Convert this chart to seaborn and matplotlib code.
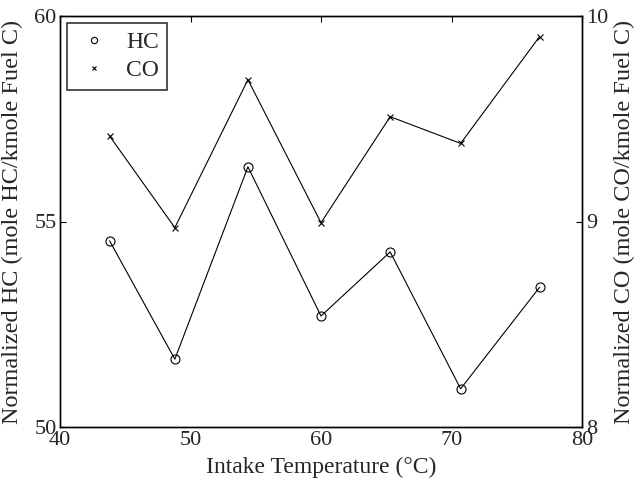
import matplotlib
matplotlib.use("Agg")
import matplotlib.pyplot as plt
import seaborn as sns
import pandas as pd
from matplotlib.lines import Line2D

temps = [43.8, 48.8, 54.4, 60.0, 65.3, 70.7, 76.75]
hc_values = [54.53, 51.65, 56.33, 52.70, 54.26, 50.93, 53.40]
co_values = [9.416, 8.97, 9.69, 8.994, 9.51, 9.38, 9.90]
x_ticks = [40, 50, 60, 70, 80]
hc_ticks = [50, 55, 60]
co_ticks = [8, 9, 10]

sns.set_style("white")
plt.rcParams['font.family'] = ['Liberation Serif', 'DejaVu Serif']
plt.rcParams['mathtext.fontset'] = 'stix'

df = pd.DataFrame({"T": temps, "HC": hc_values, "CO": co_values})

fig = plt.figure(figsize=(6.37, 4.83), dpi=100)
ax = fig.add_axes([60/637, 1-427/483, (582-60)/637, (427-16)/483])
ax2 = ax.twinx()

sns.lineplot(data=df, x="T", y="HC", ax=ax, color="black", linewidth=0.8,
             marker="o", markersize=6.5, markerfacecolor="none",
             markeredgecolor="black", markeredgewidth=0.8)
sns.lineplot(data=df, x="T", y="CO", ax=ax2, color="black", linewidth=0.8,
             marker="x", markersize=4.5, markeredgewidth=0.8,
             markeredgecolor="black")

ax.set_xlim(40, 80)
ax.set_ylim(50, 60)
ax2.set_ylim(8, 10)
ax.set_xticks(x_ticks)
ax.set_yticks(hc_ticks)
ax2.set_yticks(co_ticks)

for a in (ax, ax2):
    for s in a.spines.values():
        s.set_color("black")
        s.set_linewidth(1.0)
ax.tick_params(axis="x", direction="in", length=4, width=0.8, top=True,
               labelsize=16, pad=3, color="black")
ax.tick_params(axis="y", direction="in", length=4, width=0.8, left=True,
               right=False, labelsize=16, pad=2.5, color="black")
ax2.tick_params(axis="y", direction="in", length=4, width=0.8, right=True,
                labelsize=16, pad=3, color="black")

ax.set_xlabel("Intake Temperature (°C)", fontsize=17, labelpad=5)
ax.set_ylabel("Normalized HC (mole HC/kmole Fuel C)", fontsize=17.5)
ax2.set_ylabel("Normalized CO (mole CO/kmole Fuel C)", fontsize=17.5,
               rotation=90)
ax.yaxis.set_label_coords(-0.071, 0.5)
ax2.yaxis.set_label_coords(1.061, 0.5)

handles = [
    Line2D([], [], linestyle="none", marker="o", markersize=4.5,
           markerfacecolor="none", markeredgecolor="black", markeredgewidth=0.8),
    Line2D([], [], linestyle="none", marker="x", markersize=3.5,
           markeredgecolor="black", markeredgewidth=0.8),
]
leg = ax2.legend(handles, ["HC", "CO"], loc="upper left", fontsize=17,
                 frameon=True, fancybox=False, edgecolor="black",
                 borderaxespad=0.3, handlelength=1.6, handletextpad=0.55,
                 borderpad=0.35, labelspacing=0.3)
leg.get_frame().set_linewidth(1.2)

fig.savefig("out.png", dpi=100)
